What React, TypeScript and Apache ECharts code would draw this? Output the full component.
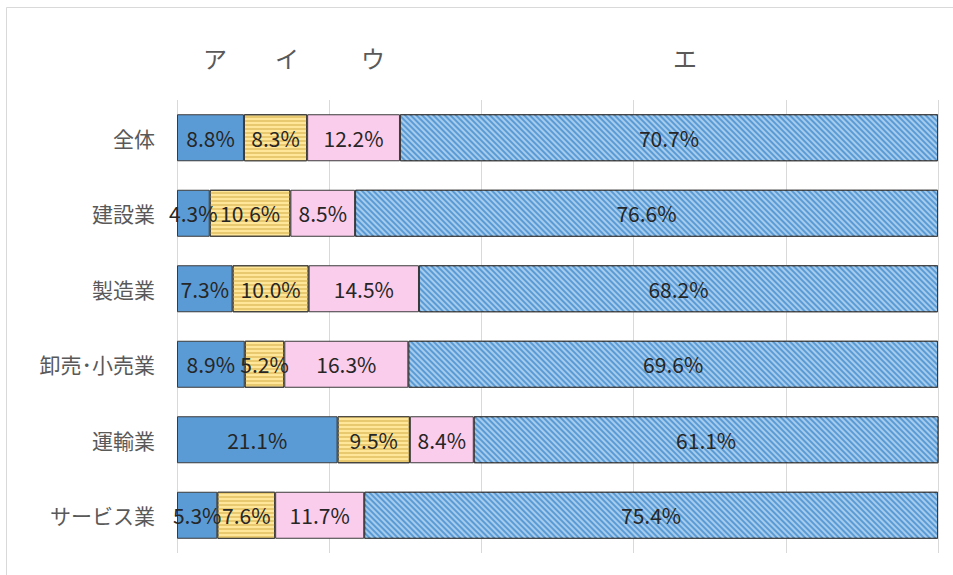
import React, { useEffect, useRef } from "react";
import * as echarts from "echarts";

const categories = ["全体", "建設業", "製造業", "卸売･小売業", "運輸業", "サービス業"];
const seriesNames = ["ア", "イ", "ウ", "エ"];
const valuesA = [8.8, 4.3, 7.3, 8.9, 21.1, 5.3];
const valuesI = [8.3, 10.6, 10.0, 5.2, 9.5, 7.6];
const valuesU = [12.2, 8.5, 14.5, 16.3, 8.4, 11.7];
const valuesE = [70.7, 76.6, 68.2, 69.6, 61.1, 75.4];
const xTicks = [0, 20, 40, 60, 80, 100];

const FONT = "'Noto Sans CJK JP', 'Noto Sans', sans-serif";

export default function App() {
  const ref = useRef<HTMLDivElement>(null);
  useEffect(() => {
    document.body.style.margin = "0";
    const chart = echarts.init(ref.current!, undefined, { renderer: "svg" });
    const label = {
      show: true,
      position: "inside",
      formatter: (p: any) => p.value.toFixed(1) + "%",
      color: "#262626",
      fontSize: 21,
      fontFamily: FONT,
    };
    const border = { borderColor: "#3a3a3a", borderWidth: 1 };
    const all = [valuesA, valuesI, valuesU, valuesE];
    const styles: any[] = [
      { color: "#5B9BD5", ...border },
      {
        color: "#FFE699",
        ...border,
        decal: {
          symbol: "rect",
          symbolSize: 1,
          dashArrayX: [[10, 0]],
          dashArrayY: [2, 2],
          rotation: 0,
          color: "#E8C970",
        },
      },
      { color: "#FBCDEC", ...border },
      {
        color: "#5B9BD5",
        ...border,
        decal: {
          symbol: "rect",
          symbolSize: 1,
          dashArrayX: [[10, 0]],
          dashArrayY: [1.5, 1.5],
          rotation: Math.PI / 4,
          color: "rgba(190,220,245,0.75)",
        },
      },
    ];
    const series = seriesNames.map((name, i) => ({
      name,
      type: "bar",
      stack: "total",
      barWidth: 47,
      data: all[i],
      label,
      itemStyle: styles[i],
    }));
    const headerPos = [215, 287, 373, 685];
    chart.setOption({
      animation: false,
      backgroundColor: "#ffffff",
      grid: { left: 177, right: 15, top: 100, bottom: 22, containLabel: false },
      xAxis: {
        type: "value",
        min: xTicks[0],
        max: xTicks[xTicks.length - 1],
        interval: xTicks[1] - xTicks[0],
        axisLabel: { show: false },
        axisLine: { show: false },
        axisTick: { show: false },
        splitLine: { show: true, lineStyle: { color: "#d9d9d9", width: 1 } },
      },
      yAxis: {
        type: "category",
        data: categories,
        inverse: true,
        axisLine: { show: false },
        axisTick: { show: false },
        axisLabel: { color: "#595959", fontSize: 21, fontFamily: FONT, margin: 22 },
      },
      series,
      graphic: [
        {
          type: "rect",
          shape: { x: 6.5, y: 7.5, width: 1000, height: 1000 },
          style: { fill: "none", stroke: "#d9d9d9", lineWidth: 1 },
          silent: true,
        },
        ...seriesNames.map((n, i) => ({
          type: "text",
          x: headerPos[i],
          y: 57,
          style: {
            text: n,
            fontSize: 24,
            fontFamily: FONT,
            fill: "#595959",
            textAlign: "center",
            textVerticalAlign: "middle",
          },
        })),
      ],
    });
    return () => chart.dispose();
  }, []);
  return (
    <div
      ref={ref}
      style={{ position: "fixed", left: 0, top: 0, width: 953, height: 575 }}
    />
  );
}
